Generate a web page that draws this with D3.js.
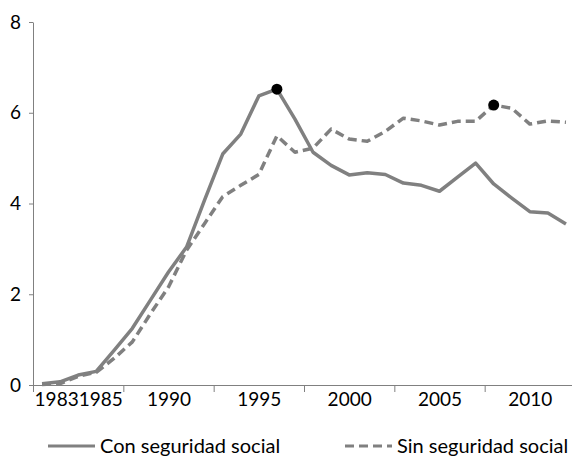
<!DOCTYPE html>
<html>
<head>
<meta charset="utf-8">
<script src="https://cdn.jsdelivr.net/npm/d3@7"></script>
<style>
  body { margin: 0; background: #fff; }
  svg { display: block; font-family: Lato, "Open Sans", sans-serif; }
  .axis path, .axis line { stroke: #808080; }
  .axis text { fill: #000; font-size: 19px; font-family: Lato, sans-serif; }
</style>
</head>
<body>
<div id="chart"></div>
<script>
// Years on the category axis
const years = d3.range(1983, 2013);

// Con seguridad social (solid line)
const conSeguridad = [0.03, 0.07, 0.22, 0.30, 0.77, 1.25, 1.87, 2.49, 3.04, 4.08,
                      5.09, 5.53, 6.37, 6.52, 5.86, 5.13, 4.84, 4.63, 4.68, 4.64,
                      4.45, 4.40, 4.27, 4.58, 4.89, 4.43, 4.12, 3.82, 3.79, 3.55];

// Sin seguridad social (dashed line)
const sinSeguridad = [0.01, 0.03, 0.19, 0.28, 0.59, 0.95, 1.57, 2.16, 2.97, 3.56,
                      4.15, 4.40, 4.64, 5.49, 5.13, 5.22, 5.64, 5.42, 5.37, 5.59,
                      5.88, 5.82, 5.73, 5.81, 5.81, 6.17, 6.10, 5.75, 5.82, 5.79];

// Highlighted maxima
const highlights = [
    { year: 1996, value: 6.52 },
    { year: 2008, value: 6.17 }
];

const yTicks = [0, 2, 4, 6, 8];
const labelYears = [1985, 1990, 1995, 2000, 2005, 2010];
const labelTexts = ["19831985", "1990", "1995", "2000", "2005", "2010"];
const seriesNames = ["Con seguridad social", "Sin seguridad social"];

// Dimensions
const width = 572;
const height = 463;
const margin = { top: 22, right: 0, bottom: 78, left: 33 };

const svg = d3.select("#chart")
    .append("svg")
    .attr("width", width)
    .attr("height", height);

// Scales: each year is a category slot, points sit in the middle of the slot
const xScale = d3.scaleLinear()
    .domain([years[0] - 0.5, years[years.length - 1] + 0.5])
    .range([margin.left, 575]);

const yScale = d3.scaleLinear()
    .domain([0, 8])
    .range([height - margin.bottom, margin.top]);

// y-axis
svg.append("g")
    .attr("class", "axis")
    .attr("transform", `translate(${margin.left},0)`)
    .call(d3.axisLeft(yScale).tickValues(yTicks).tickSize(4).tickSizeOuter(0).tickPadding(8));

// x-axis: tick marks between groups of five years
const groupEdges = d3.range(years[0] - 0.5, years[years.length - 1], 5);
svg.append("g")
    .attr("class", "axis")
    .attr("transform", `translate(0,${yScale(0)})`)
    .call(d3.axisBottom(xScale).tickValues(groupEdges).tickSize(7).tickSizeOuter(0).tickFormat(""));

// x-axis labels centred in each group
svg.append("g")
    .attr("class", "axis")
    .attr("transform", `translate(0,${yScale(0)})`)
    .call(d3.axisBottom(xScale).tickValues(labelYears).tickSize(0).tickPadding(8)
        .tickFormat((d, i) => labelTexts[i]))
    .call(g => g.select(".domain").remove());

// Lines
const line = d3.line()
    .x((d, i) => xScale(years[i]))
    .y(d => yScale(d));

svg.append("path")
    .datum(conSeguridad)
    .attr("d", line)
    .attr("fill", "none")
    .attr("stroke", "#808080")
    .attr("stroke-width", 3.5)
    .attr("stroke-linejoin", "round");

svg.append("path")
    .datum(sinSeguridad)
    .attr("d", line)
    .attr("fill", "none")
    .attr("stroke", "#808080")
    .attr("stroke-width", 3.5)
    .attr("stroke-dasharray", "9,5")
    .attr("stroke-linejoin", "round");

// Marker dots
svg.selectAll(".dot")
    .data(highlights)
    .enter().append("circle")
    .attr("class", "dot")
    .attr("cx", d => xScale(d.year))
    .attr("cy", d => yScale(d.value))
    .attr("r", 5.5)
    .attr("fill", "#000");

// Legend
const legend = svg.append("g").attr("transform", "translate(0,446)");
const legendX = [48, 345];
seriesNames.forEach((name, i) => {
    legend.append("line")
        .attr("x1", legendX[i])
        .attr("x2", legendX[i] + 47)
        .attr("y1", 0)
        .attr("y2", 0)
        .attr("stroke", "#808080")
        .attr("stroke-width", 3)
        .attr("stroke-dasharray", i === 1 ? "9,5" : null);
    legend.append("text")
        .attr("x", legendX[i] + 52)
        .attr("y", 7)
        .style("font-size", "20px")
        .style("fill", "#000")
        .text(name);
});
</script>
</body>
</html>
